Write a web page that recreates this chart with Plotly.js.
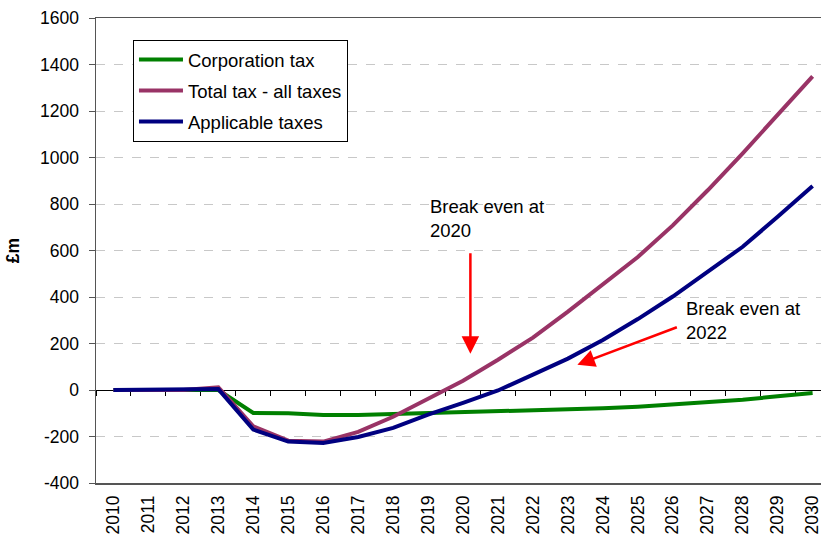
<!DOCTYPE html>
<html>
<head>
<meta charset="utf-8">
<script src="https://cdn.plot.ly/plotly-3.0.1.min.js"></script>
<style>html,body{margin:0;padding:0;background:#fff}#chart{width:821px;height:539px}</style>
</head>
<body>
<div id="chart"></div>
<script>
const years = ['2010','2011','2012','2013','2014','2015','2016','2017','2018','2019','2020','2021','2022','2023','2024','2025','2026','2027','2028','2029','2030'];
const corporationTax = [0,0,0,0,-99,-100,-108,-108,-103,-99,-96,-95,-89,-85,-79,-72,-62,-53,-42,-27,-13];
const totalTax = [0,0,0,12,-156,-218,-222,-180,-115,-38,40,130,225,337,452,572,708,859,1018,1185,1349];
const applicableTaxes = [0,0,0,4,-170,-222,-228,-202,-163,-106,-55,-2,66,135,215,305,402,509,616,745,877];
const seriesNames = ['Corporation tax','Total tax - all taxes','Applicable taxes'];
const yTicks = [-400,-200,0,200,400,600,800,1000,1200,1400,1600];

const FONT = 'Liberation Sans, Arial, sans-serif';
const xr = [-0.5, 20.24];

const traces = [
  {x: years, y: corporationTax, name: seriesNames[0], type: 'scatter', mode: 'lines',
   line: {color: '#008000', width: 4}, legendgroup: 'a', xaxis: 'x', yaxis: 'y'},
  {x: years, y: totalTax, name: seriesNames[1], type: 'scatter', mode: 'lines',
   line: {color: '#993366', width: 4}, legendgroup: 'b', xaxis: 'x', yaxis: 'y'},
  {x: years, y: applicableTaxes, name: seriesNames[2], type: 'scatter', mode: 'lines',
   line: {color: '#000080', width: 4}, legendgroup: 'c', xaxis: 'x2', yaxis: 'y'}
];

const layout = {
  width: 821, height: 539,
  margin: {l: 96, r: 0, t: 18, b: 56},
  paper_bgcolor: '#fff', plot_bgcolor: '#fff',
  font: {family: FONT, size: 17, color: '#000'},
  showlegend: true,
  legend: {x: 0.051, y: 0.953, xanchor: 'left', yanchor: 'top',
           bordercolor: '#000', borderwidth: 1, bgcolor: '#fff',
           font: {family: FONT, size: 18.5, color: '#000'},
           traceorder: 'grouped', tracegroupgap: 4, itemwidth: 44},
  xaxis: {type: 'category', range: xr, showline: true, mirror: true, linecolor: '#555', linewidth: 1.5,
          ticks: '', tickangle: -90, showgrid: false, zeroline: false,
          tickfont: {family: FONT, size: 17.5, color: '#000'}, ticklabelstandoff: 4},
  xaxis2: {type: 'category', range: xr, overlaying: 'x', anchor: 'free', position: 0.2,
           showline: true, linecolor: '#000', linewidth: 1, ticks: 'outside', ticklen: 5,
           tickcolor: '#000', tickwidth: 1, tickson: 'boundaries', showticklabels: false, showgrid: false,
           zeroline: false, layer: 'below traces'},
  yaxis: {range: [-400, 1600], tickvals: yTicks, ticktext: yTicks.map(String),
          showgrid: true, gridcolor: '#c8c8c8', griddash: 'dash', gridwidth: 1,
          zeroline: false, showline: true, linecolor: '#555', linewidth: 1.5,
          ticks: 'outside', ticklen: 6, tickcolor: '#555', ticklabelstandoff: 6,
          tickfont: {family: FONT, size: 17.5, color: '#000'},
          title: {text: '£m', font: {family: FONT, size: 17.5, color: '#000', weight: 'bold'}, standoff: 16}},
  annotations: [
    {xref: 'x', yref: 'y', x: 9.0, y: 737, xanchor: 'left', yanchor: 'middle', align: 'left',
     text: 'Break even at<br>2020', showarrow: false, font: {family: FONT, size: 18.5, color: '#000'}},
    {xref: 'x', yref: 'y', x: 10.21, y: 156, text: '', showarrow: true, ax: 0, ay: -102,
     arrowcolor: '#ff0000', arrowwidth: 2.5, arrowhead: 2, arrowsize: 1.4, standoff: 0},
    {xref: 'x', yref: 'y', x: 16.33, y: 301, xanchor: 'left', yanchor: 'middle', align: 'left',
     text: 'Break even at<br>2022', showarrow: false, font: {family: FONT, size: 18.5, color: '#000'}},
    {xref: 'x', yref: 'y', x: 13.27, y: 109, text: '', showarrow: true, ax: 101, ay: -38,
     arrowcolor: '#ff0000', arrowwidth: 2.5, arrowhead: 2, arrowsize: 1.4, standoff: 0}
  ]
};

Plotly.newPlot('chart', traces, layout, {displayModeBar: false, staticPlot: true});
</script>
</body>
</html>
